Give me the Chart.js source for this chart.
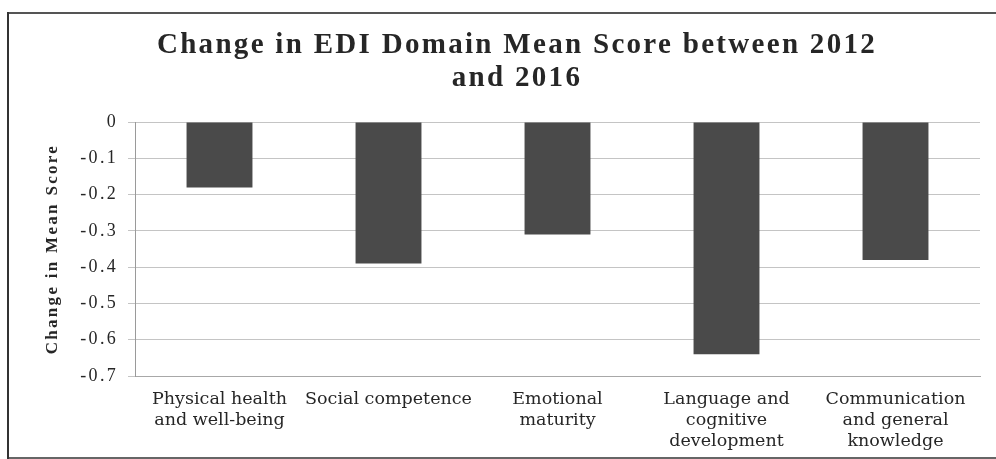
<!DOCTYPE html>
<html>
<head>
<meta charset="utf-8">
<script src="https://cdn.jsdelivr.net/npm/chart.js@4.4.1/dist/chart.umd.min.js"></script>
<style>
  html, body { margin: 0; padding: 0; background: #fff; overflow: hidden; width: 996px; height: 459px; }
  .rule { position: absolute; }
  #rule-top { left: 7px; width: 989px; top: 12px; height: 2px; background: #555; }
  #rule-bottom { left: 7px; width: 989px; top: 457px; height: 2px; background: #666; }
  #rule-left { left: 7px; width: 2px; top: 12px; height: 447px; background: #333; }
  #wrap { position: absolute; left: 9px; top: 14px; width: 1016px; height: 443px; }
</style>
</head>
<body>
<div class="rule" id="rule-top"></div>
<div class="rule" id="rule-bottom"></div>
<div class="rule" id="rule-left"></div>
<div id="wrap"><canvas id="edi-change"></canvas></div>
<script>
var DOMAINS = [
  ["Physical health", "and well-being"],
  "Social competence",
  ["Emotional", "maturity"],
  ["Language and", "cognitive", "development"],
  ["Communication", "and general", "knowledge"]
]
var MEAN_CHANGE = [-0.18, -0.39, -0.31, -0.64, -0.38]
var Y_MIN = -0.7
var Y_MAX = 0
var Y_STEP = 0.1

var BAR = "#4a4a4a"
var GRID = "#c4c4c4"
var INK = "#262626"

// wider type for the title and y axis; the category labels (ticks.z = 1)
// are drawn after the bars, once the spacing is back to normal
var spacing = {
  id: "spacing",
  beforeDraw: function (chart) { chart.ctx.letterSpacing = "2.3px" },
  afterDatasetsDraw: function (chart) { chart.ctx.letterSpacing = "0px" }
}

var ctx = document.getElementById("edi-change")
var chart = new Chart(ctx, {
  type: "bar",
  data: {
    labels: DOMAINS,
    datasets: [{
      data: MEAN_CHANGE,
      backgroundColor: BAR,
      borderWidth: 0,
      barPercentage: 0.39,
      categoryPercentage: 1
    }]
  },
  options: {
    responsive: true,
    maintainAspectRatio: false,
    animation: false,
    layout: { padding: 0 },
    plugins: {
      legend: { display: false },
      tooltip: { enabled: false },
      title: {
        display: true,
        text: ["Change in EDI Domain Mean Score between 2012", "and 2016"],
        color: INK,
        font: { family: "'Liberation Serif', 'Times New Roman', serif", size: 29, weight: "bold", lineHeight: 1.14 },
        padding: { top: 15, bottom: 27 }
      }
    },
    scales: {
      x: {
        grid: { display: false, drawTicks: false },
        border: { display: true, color: "#a8a8a8" },
        ticks: {
          z: 1,
          autoSkip: false,
          maxRotation: 0,
          padding: 13,
          color: INK,
          font: { family: "'DejaVu Serif', serif", size: 17.5, lineHeight: 1.2 }
        },
        afterFit: function (scale) { scale.height = 81 }
      },
      y: {
        min: Y_MIN,
        max: Y_MAX,
        grid: { color: GRID, tickLength: 7 },
        border: { display: true, color: "#9a9a9a" },
        ticks: {
          stepSize: Y_STEP,
          padding: 10,
          color: INK,
          font: { family: "'Liberation Serif', 'Times New Roman', serif", size: 18 }
        },
        title: {
          display: true,
          text: "Change in Mean Score",
          color: INK,
          font: { family: "'Liberation Serif', 'Times New Roman', serif", size: 17, weight: "bold" },
          padding: { top: 33, bottom: 0 }
        },
        afterFit: function (scale) { scale.width = 126 }
      },
      // empty right-hand axis keeps the plot clear of the right edge
      gap: {
        position: "right",
        grid: { display: false },
        border: { display: false },
        ticks: { display: false },
        afterFit: function (scale) { scale.width = 45 }
      }
    }
  },
  plugins: [spacing]
})
</script>
</body>
</html>
